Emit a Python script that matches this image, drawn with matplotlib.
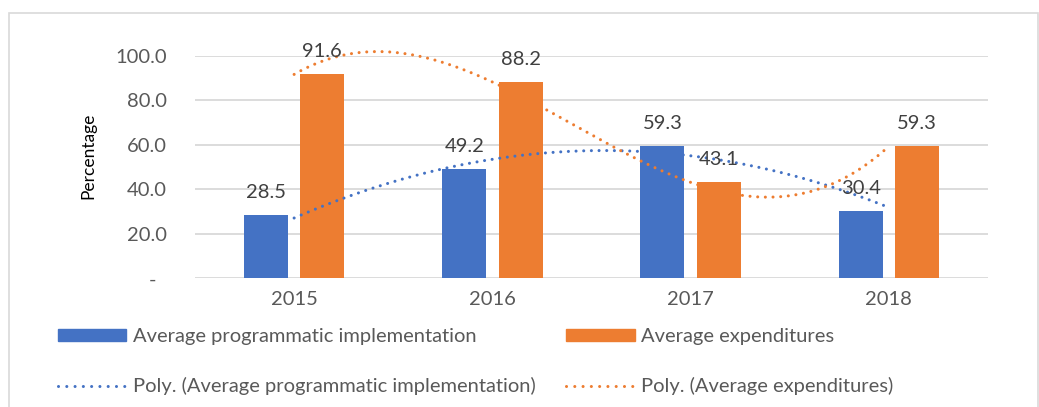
import numpy as np
import matplotlib
matplotlib.use("Agg")
import matplotlib.pyplot as plt
from matplotlib.patches import Rectangle, Patch
from matplotlib.lines import Line2D
import matplotlib.transforms as mtransforms

years = ["2015", "2016", "2017", "2018"]
programmatic = [28.5, 49.2, 59.3, 30.4]
expenditures = [91.6, 88.2, 43.1, 59.3]
yticks = [0, 20, 40, 60, 80, 100]
ytick_labels = ["-", "20.0", "40.0", "60.0", "80.0", "100.0"]

BLUE = "#4472C4"
ORANGE = "#ED7D31"
GRID = "#D9D9D9"
TXT = "#595959"
LBL = "#404040"
FONT = "Lato"
FS = 14.5

plt.rcParams["font.family"] = [FONT, "DejaVu Sans"]

W, H = 1039, 407
fig = plt.figure(figsize=(W / 100, H / 100), dpi=100)

# outer chart border
fig.patches.append(Rectangle((9 / W, -0.1), (W - 10) / W, (H - 13) / H + 0.1,
                             transform=fig.transFigure, fill=False,
                             edgecolor=GRID, lw=1.2))

ax = fig.add_axes([195 / W, (H - 278.3) / H, (988 - 195) / W, (278.3 - 55.7) / H])
x = np.arange(len(years))
bw = 0.222
off = 0.142
b1 = ax.bar(x - off, programmatic, bw, color=BLUE, zorder=2)
b2 = ax.bar(x + off, expenditures, bw, color=ORANGE, zorder=2)

for rects, vals in ((b1, programmatic), (b2, expenditures)):
    for r, v in zip(rects, vals):
        ax.annotate(f"{v:.1f}", (r.get_x() + r.get_width() / 2, v),
                    xytext=(0, 12.2), textcoords="offset points",
                    ha="center", va="baseline", fontsize=FS, color=LBL, zorder=5)

# polynomial trendlines (order 2 for programmatic, order 3 for expenditures)
xs = np.array([1, 2, 3, 4], dtype=float)
xf = np.linspace(1, 4, 200)
c1 = np.polyfit(xs, programmatic, 2)
c2 = np.polyfit(xs, expenditures, 3)
TLW = 2.2
dot = (0, (0.01, 2.5))
ax.plot(xf - 1, np.polyval(c1, xf), color=BLUE, lw=TLW, ls=dot,
        dash_capstyle="round", zorder=4, clip_on=False)
ax.plot(xf - 1, np.polyval(c2, xf), color=ORANGE, lw=TLW, ls=dot,
        dash_capstyle="round", zorder=4, clip_on=False)

ax.set_xlim(-0.5, 3.5)
ax.set_ylim(0, 100)
ax.set_yticks(yticks)
ax.set_yticklabels(ytick_labels)
ax.set_xticks(x)
ax.set_xticklabels(years)
ax.tick_params(axis="both", length=0, labelsize=FS, labelcolor=TXT)
ax.tick_params(axis="y", pad=20)
ax.tick_params(axis="x", pad=9)
for s in ax.spines.values():
    s.set_visible(False)
ax.grid(axis="y", color=GRID, lw=1.3, zorder=0)
ax.set_axisbelow(True)

# shift the "-" label left as in accounting format
lab0 = ax.get_yticklabels()[0]
lab0.set_transform(lab0.get_transform() + mtransforms.ScaledTranslation(-11 / 100, 0, fig.dpi_scale_trans))

fig.text(88 / W, (H - 155.5) / H, "Percentage", rotation=90, ha="center", va="center",
         fontsize=12.5, color="#000000")

handles = [Patch(color=BLUE),
           Line2D([0], [0], color=BLUE, lw=TLW, ls=(0, (0.01, 2.7)), dash_capstyle="round"),
           Patch(color=ORANGE),
           Line2D([0], [0], color=ORANGE, lw=TLW, ls=(0, (0.01, 2.7)), dash_capstyle="round")]
labels = ["Average programmatic implementation",
          "Poly. (Average programmatic implementation)",
          "Average expenditures",
          "Poly. (Average expenditures)"]
leg = fig.legend(handles, labels, ncol=2, loc="upper left",
                 bbox_to_anchor=(58 / W, (H - 328) / H),
                 frameon=False, fontsize=FS, labelcolor=TXT,
                 handlelength=3.4, handleheight=0.6, handletextpad=0.3,
                 columnspacing=1.55, labelspacing=1.6, borderaxespad=0, borderpad=0)

fig.savefig("out.png", dpi=100)
